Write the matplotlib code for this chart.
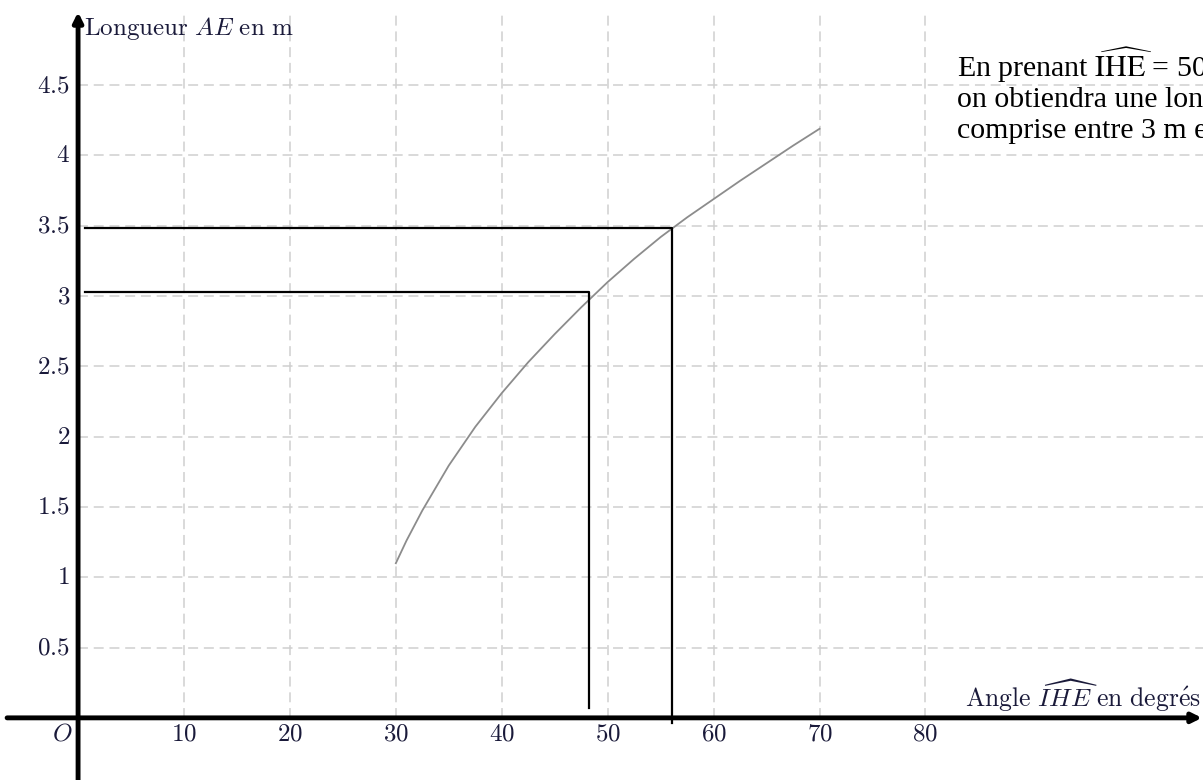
import matplotlib
matplotlib.use("Agg")
import matplotlib.pyplot as plt

plt.rcParams['mathtext.fontset'] = 'cm'

# courbe AE en fonction de l'angle IHE
angles = [30, 31, 32.5, 35, 37.5, 40, 42.5, 45, 47.5, 50, 52.5, 55, 57.5, 60, 62.5, 65, 67.5, 70]
ae = [1.10, 1.26, 1.475, 1.795, 2.07, 2.31, 2.53, 2.73, 2.92, 3.10, 3.265, 3.42, 3.56, 3.69,
      3.82, 3.945, 4.07, 4.19]

# lectures graphiques (traits noirs)
lect_x = [48.2, 56.05]
lect_y = [3.03, 3.485]
lect_bas = [0.07, -0.04]

x_ticks = [10, 20, 30, 40, 50, 60, 70, 80]
y_ticks = [0.5, 1, 1.5, 2, 2.5, 3, 3.5, 4, 4.5]
x_labels = ['10', '20', '30', '40', '50', '60', '70', '80']
y_labels = ['0.5', '1', '1.5', '2', '2.5', '3', '3.5', '4', '4.5']

fig = plt.figure(figsize=(12.03, 7.8), dpi=100)
ax = fig.add_axes([0, 0, 1, 1])
ax.set_xlim(-7.37, 106.2)
ax.set_ylim(-0.442, 5.106)
ax.axis('off')

# quadrillage
grid_kw = dict(color='#cfcfcf', lw=1.1, dashes=(6.5, 3.8), zorder=1)
for xv in x_ticks:
    ax.plot([xv, xv], [0, 5.02], **grid_kw)
for yv in y_ticks:
    ax.plot([0, 106.2], [yv, yv], **grid_kw)

# axes avec fleches
arr = dict(arrowstyle='-|>', lw=3.5, color='k', mutation_scale=14, shrinkA=0, shrinkB=0)
ax.annotate('', xy=(106.1, 0), xytext=(-6.7, 0), arrowprops=arr, zorder=5)
ax.annotate('', xy=(0, 5.02), xytext=(0, -0.45), arrowprops=arr, zorder=5)

# courbe
ax.plot(angles, ae, color='#8c8c8c', lw=1.3, zorder=3)

# traits de lecture
for xl, yl, yb in zip(lect_x, lect_y, lect_bas):
    ax.plot([0.65, xl, xl], [yl, yl, yb], color='k', lw=1.6, zorder=4)

# graduations
lab_col = '#1a1a3a'
for xv, lab in zip(x_ticks, x_labels):
    ax.text(xv, -0.11, '$' + lab + '$', ha='center', va='center', fontsize=18, color=lab_col)
for yv, lab in zip(y_ticks, y_labels):
    ax.text(-0.75, yv, '$' + lab + '$', ha='right', va='center', fontsize=18, color=lab_col)
ax.text(-1.5, -0.11, '$O$', ha='center', va='center', fontsize=18, color=lab_col)

# titres des axes
ax.text(0.55, 4.857, r'$\mathrm{Longueur}\ AE\ \mathrm{en\ m}$', ha='left', va='baseline',
        fontsize=18, color=lab_col)
ax.text(106.0, 0.08, r'$\mathrm{Angle}\ \widehat{IHE}\ \mathrm{en\ degr\acute{e}s}$',
        ha='right', va='baseline', fontsize=18.5, color=lab_col)

# commentaire
txt_kw = dict(ha='left', va='baseline', fontsize=21.5, family='Liberation Serif',
              math_fontfamily='stix', color='k', clip_on=True)
x_txt = (956.5 - 78) / 10.59
ax.text(x_txt, (717.9 - 77) / 140.6, r'En prenant $\widehat{\mathrm{IHE}}$ = 50°,', **txt_kw)
ax.text(x_txt, (717.9 - 107) / 140.6, 'on obtiendra une longueur AE', **txt_kw)
ax.text(x_txt, (717.9 - 138) / 140.6, 'comprise entre 3 m et 3,5 m.', **txt_kw)

fig.savefig('out.png', dpi=100)
